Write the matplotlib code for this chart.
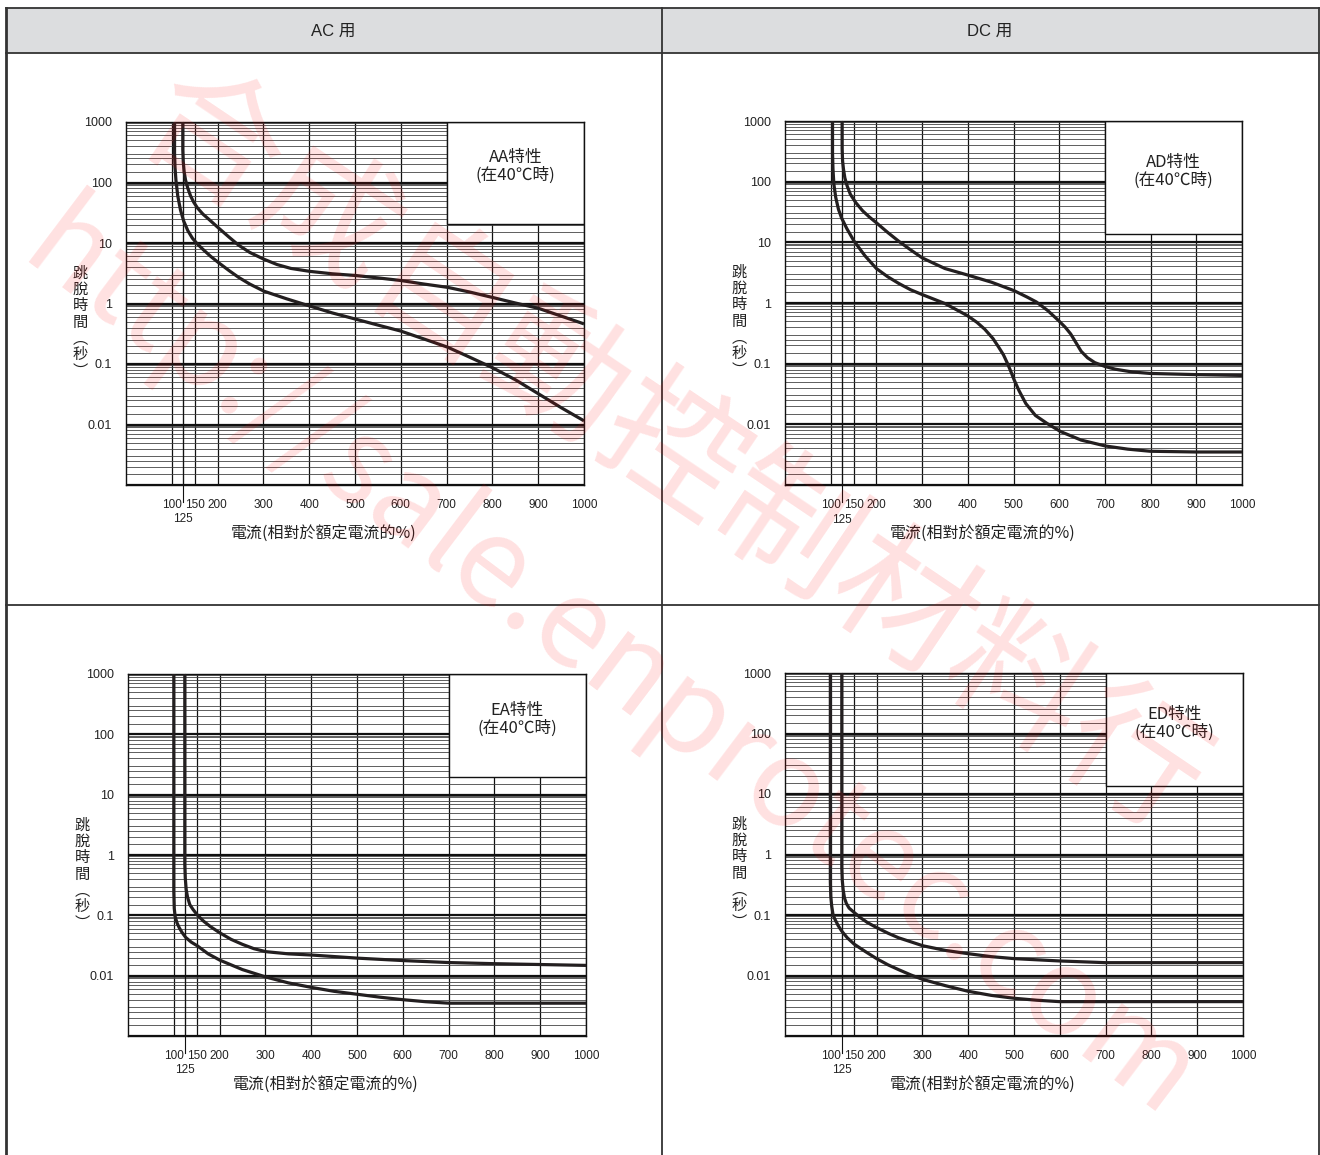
import matplotlib
matplotlib.use("Agg")
import matplotlib.pyplot as plt
from matplotlib.patches import Rectangle
from matplotlib.ticker import FixedLocator, NullFormatter

plt.rcParams['font.family'] = ['Liberation Sans', 'Noto Sans CJK TC']

W, H = 1320, 1155

# ---- data ------------------------------------------------------------
x_grid = [100, 125, 150, 200, 300, 400, 500, 600, 700, 800, 900, 1000]
x_labels = ['100', '', '150', '200', '300', '400', '500', '600', '700', '800', '900', '1000']
y_major = [0.001, 0.01, 0.1, 1, 10, 100, 1000]
y_labels = ['', '0.01', '0.1', '1', '10', '100', '1000']
y_sub = [1.5, 2, 2.5, 3, 4, 5, 6, 7, 8, 9, 9.5]

headers = ['AC 用', 'DC 用']
panel_names = ['AA', 'AD', 'EA', 'ED']
box_bottom = [21, 13.5, 20, 13.5]   # lower edge of the white label box (s)

# AA
aa_fast_x = [106, 106, 107, 109, 113, 119, 126, 135, 145, 156, 170, 185, 201, 225, 246,
             270, 301, 350, 401, 450, 502, 550, 600, 650, 702, 750, 800, 850, 901, 950, 1000]
aa_fast_t = [1000, 300, 180, 110, 60, 35, 23, 16, 12, 9.6, 7.6, 6.0, 4.8, 3.5, 2.7,
             2.1, 1.6, 1.2, 0.91, 0.7, 0.55, 0.44, 0.35, 0.26, 0.19, 0.13, 0.087, 0.055,
             0.032, 0.019, 0.0115]
aa_slow_x = [124, 124, 125, 127, 130, 135, 141, 148, 156, 168, 180, 201, 225, 246, 270,
             301, 330, 360, 401, 450, 502, 550, 600, 650, 702, 750, 800, 850, 901, 950, 1000]
aa_slow_t = [1000, 350, 220, 150, 110, 80, 60, 47, 38, 30, 25, 18, 12.5, 9.2, 7,
             5.4, 4.4, 3.8, 3.4, 3.1, 2.9, 2.65, 2.4, 2.1, 1.85, 1.55, 1.26, 1.02,
             0.83, 0.62, 0.46]
# AD
ad_fast_x = [104, 104, 105, 107, 111, 117, 124, 135, 151, 175, 200, 225, 249, 275, 301,
             350, 399, 420, 437, 455, 467, 478, 486, 494, 501, 512, 527, 548, 573, 603, 648,
             701, 750, 799, 900, 1000]
ad_fast_t = [1000, 300, 160, 90, 55, 35, 25, 17, 10.5, 6, 3.7, 2.7, 2.1, 1.65, 1.37,
             0.98, 0.62, 0.48, 0.37, 0.26, 0.19, 0.14, 0.104, 0.075, 0.055, 0.036, 0.022,
             0.014, 0.0104, 0.0076, 0.0055, 0.0044, 0.0039, 0.0036, 0.0035, 0.0035]
ad_slow_x = [125, 125, 126, 128, 131, 136, 143, 155, 170, 185, 200, 225, 249, 275, 301,
             350, 399, 452, 501, 530, 550, 575, 599, 613, 625, 637, 648, 662, 678, 700,
             723, 760, 799, 900, 1000]
ad_slow_t = [1000, 350, 220, 160, 115, 85, 62, 45, 33, 26, 21, 14.5, 10.4, 7.5, 5.5,
             3.7, 2.9, 2.2, 1.6, 1.25, 1.04, 0.75, 0.51, 0.4, 0.31, 0.22, 0.16, 0.125,
             0.104, 0.09, 0.081, 0.073, 0.069, 0.066, 0.064]
# EA
ea_fast_x = [100, 100, 101, 103, 107, 112, 118, 126, 138, 152, 175, 201, 250, 301, 350,
             400, 450, 502, 550, 600, 650, 700, 800, 1000]
ea_fast_t = [1000, 0.25, 0.13, 0.095, 0.075, 0.062, 0.052, 0.043, 0.036, 0.031, 0.023, 0.018,
             0.0126, 0.0095, 0.0076, 0.0064, 0.0055, 0.0049, 0.0044, 0.0040, 0.0037, 0.0035,
             0.0035, 0.0035]
ea_slow_x = [124, 124, 125, 127, 130, 135, 142, 152, 165, 180, 201, 225, 250, 275, 301,
             350, 400, 502, 600, 700, 800, 900, 1000]
ea_slow_t = [1000, 0.7, 0.42, 0.27, 0.2, 0.15, 0.125, 0.1, 0.08, 0.065, 0.051, 0.04, 0.033,
             0.028, 0.025, 0.023, 0.022, 0.0195, 0.0178, 0.0165, 0.0158, 0.0153, 0.0148]
# ED
ed_fast_x = [99, 99, 100, 102, 105, 109, 116, 124, 136, 151, 175, 200, 225, 248, 275,
             301, 350, 399, 450, 501, 550, 599, 700, 800, 1000]
ed_fast_t = [1000, 0.35, 0.2, 0.14, 0.1, 0.085, 0.067, 0.054, 0.042, 0.033, 0.025, 0.019,
             0.015, 0.0125, 0.0102, 0.0086, 0.0068, 0.0055, 0.0047, 0.0042, 0.0039, 0.0037,
             0.0037, 0.0037, 0.0037]
ed_slow_x = [124, 124, 125, 127, 130, 134, 140, 151, 165, 180, 200, 225, 248, 275, 301,
             350, 399, 450, 501, 599, 700, 800, 1000]
ed_slow_t = [1000, 0.6, 0.38, 0.26, 0.19, 0.155, 0.13, 0.11, 0.09, 0.075, 0.062, 0.05, 0.042,
             0.036, 0.031, 0.026, 0.023, 0.0205, 0.019, 0.0174, 0.0163, 0.0163, 0.0163]

curves = [
    [(aa_fast_x, aa_fast_t), (aa_slow_x, aa_slow_t)],
    [(ad_fast_x, ad_fast_t), (ad_slow_x, ad_slow_t)],
    [(ea_fast_x, ea_fast_t), (ea_slow_x, ea_slow_t)],
    [(ed_fast_x, ed_fast_t), (ed_slow_x, ed_slow_t)],
]

# axes frames in pixels: left, top, right, bottom
frames = [(126, 122, 584, 485), (785, 121, 1242, 485),
          (128, 674, 586, 1036), (785, 673, 1243, 1036)]

ylabel = '跳\n脫\n時\n間\n︵\n秒\n︶'
xlabel = '電流(相對於額定電流的%)'
cjk = ['Noto Sans CJK TC', 'DejaVu Sans']
ink = '#222222'


def fx(x):
    return x / W


def fy(y):
    return 1 - y / H


fig = plt.figure(figsize=(W / 100, H / 100), dpi=100)

# ---- table around the charts ---------------------------------------
fig.add_artist(Rectangle((fx(6), fy(53)), fx(1313), 45 / H, transform=fig.transFigure,
                         facecolor='#dcdddf', edgecolor='none', zorder=0))
tbl = dict(transform=fig.transFigure, color='#333333', lw=1.3)
fig.add_artist(plt.Line2D([fx(6), fx(1319)], [fy(8), fy(8)], **tbl))
fig.add_artist(plt.Line2D([fx(6), fx(1319)], [fy(53), fy(53)], **tbl))
fig.add_artist(plt.Line2D([fx(6), fx(1319)], [fy(605), fy(605)], **tbl))
fig.add_artist(plt.Line2D([fx(6), fx(6)], [fy(8), 0], transform=fig.transFigure, color='#333333', lw=2))
fig.add_artist(plt.Line2D([fx(662), fx(662)], [fy(8), 0], **tbl))
fig.add_artist(plt.Line2D([fx(1319), fx(1319)], [fy(8), 0], **tbl))
fig.text(fx(333), fy(31), headers[0], ha='center', va='center', fontsize=12, color=ink)
fig.text(fx(990), fy(31), headers[1], ha='center', va='center', fontsize=12, color=ink)

for i, name in enumerate(panel_names):
    l, t, r, b = frames[i]
    ax = fig.add_axes([fx(l), fy(b), (r - l) / W, (b - t) / H])
    ax.set_yscale('log')
    ax.set_xlim(0, 1000)
    ax.set_ylim(0.001, 1000)

    ax.xaxis.set_major_locator(FixedLocator(x_grid))
    ax.set_xticklabels(x_labels)
    ax.yaxis.set_major_locator(FixedLocator(y_major))
    ax.set_yticklabels(y_labels)
    minors = [d * s for d in y_major[:-1] for s in y_sub]
    ax.yaxis.set_minor_locator(FixedLocator(minors))
    ax.yaxis.set_minor_formatter(NullFormatter())
    ax.tick_params(which='both', length=0, labelsize=9, colors=ink)
    ax.tick_params(axis='x', pad=10, labelsize=8.5)
    ax.tick_params(axis='y', pad=10)

    ax.grid(axis='x', which='major', color='#111111', lw=0.9)
    ax.grid(axis='y', which='major', color='#111111', lw=1.6)
    ax.grid(axis='y', which='minor', color='#444444', lw=0.6)
    for sp in ax.spines.values():
        sp.set_color('#111111')
        sp.set_linewidth(1.0)

    # long 125 % tick reaching down to its label
    ax.axvline(125, ymin=-0.048, ymax=1, color='#111111', lw=0.8, clip_on=False)
    ax.text(125, -0.095, '125', transform=ax.get_xaxis_transform(), ha='center', va='center',
            fontsize=8.5, color=ink)

    # label box in the upper right
    ax.add_patch(Rectangle((700, box_bottom[i]), 300, 1000 - box_bottom[i], facecolor='white',
                           edgecolor='#111111', lw=1.0, zorder=2.5))
    ax.text(850, (box_bottom[i] * 1000) ** 0.5 * 1.25, name + '特性\n(在40℃時)',
            ha='center', va='center', fontsize=12, family=cjk, color=ink, zorder=3,
            linespacing=1.05)

    for cx, ct in curves[i]:
        ax.plot(cx, ct, color='#231f20', lw=2.3, zorder=4, solid_capstyle='butt',
                solid_joinstyle='round')

    fig.text(fx(l + 198), fy(b + 49), xlabel, ha='center', va='center', fontsize=11.5,
             family=cjk, color=ink)
    fig.text(fx(l - 46), fy(t + 200), ylabel, ha='center', va='center', fontsize=11, family=cjk,
             color=ink, linespacing=0.95)

# ---- watermark --------------------------------------------------------
fig.text(fx(670), fy(455), '合成自動控制材料行', ha='center', va='center', rotation=-34,
         rotation_mode='anchor', fontsize=100, family=cjk, color='red', alpha=0.12, zorder=10)
fig.text(fx(610), fy(665), 'http://sale.enprotec.com', ha='center', va='center', rotation=-37,
         rotation_mode='anchor', fontsize=88, family=cjk, color='red', alpha=0.12, zorder=10)

fig.savefig('out.png', dpi=100)
